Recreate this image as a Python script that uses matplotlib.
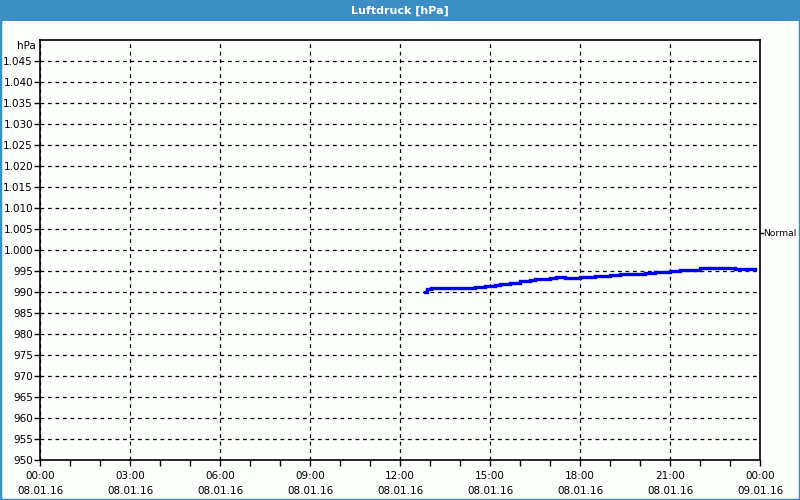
import matplotlib
matplotlib.use("Agg")
import matplotlib.pyplot as plt
from matplotlib.patches import Rectangle

# Luftdruck-Messwerte (Stunde seit 08.01.16 00:00, hPa)
stunden = [12.83, 12.91, 13.03, 14.5, 14.83, 15.17, 15.33, 15.67, 16.0, 16.33,
           16.5, 17.0, 17.2, 17.5, 18.0, 18.5, 19.0, 19.33, 20.17, 20.5,
           21.0, 21.33, 22.0, 23.17, 23.83]
druck = [990.0, 990.7, 991.0, 991.3, 991.5, 991.7, 992.0, 992.2, 992.6, 992.9,
         993.0, 993.4, 993.6, 993.4, 993.6, 993.8, 994.0, 994.3, 994.6, 994.8,
         995.0, 995.3, 995.7, 995.4, 995.4]

x_ticks = [0, 3, 6, 9, 12, 15, 18, 21, 24]
x_labels = ["00:00\n08.01.16", "03:00\n08.01.16", "06:00\n08.01.16",
            "09:00\n08.01.16", "12:00\n08.01.16", "15:00\n08.01.16",
            "18:00\n08.01.16", "21:00\n08.01.16", "00:00\n09.01.16"]
y_ticks = list(range(950, 1050, 5))
normal_wert = 1004.0

blau = "#3c8fc6"
hintergrund = "#fbfefb"

fig = plt.figure(figsize=(8, 5), dpi=100, facecolor=hintergrund)

# Titelleiste
fig.patches.append(Rectangle((0, 479 / 500), 1, 21 / 500, transform=fig.transFigure,
                             facecolor=blau, edgecolor="none", zorder=0))
fig.patches.append(Rectangle((0, 0), 1, 1, transform=fig.transFigure,
                             facecolor="none", edgecolor=blau, linewidth=2.5, zorder=5))
fig.text(0.5, 1 - 10.5 / 500, "Luftdruck [hPa]", color="white", fontsize=8,
         fontweight="bold", ha="center", va="center")

ax = fig.add_axes([0.05, 0.08, 0.90, 0.84])
ax.set_facecolor(hintergrund)
ax.set_xlim(0, 24)
ax.set_ylim(950, 1050)

ax.plot(stunden, druck, color="#0000ee", linewidth=2.4, drawstyle="steps-post",
        solid_joinstyle="miter", zorder=3)

ax.set_xticks(x_ticks)
ax.set_xticklabels(x_labels, fontsize=7.5, linespacing=1.55)
ax.set_xticks(range(25), minor=True)
ax.set_yticks(y_ticks)
ax.set_yticklabels([f"{v:,}".replace(",", ".") for v in y_ticks], fontsize=7.5)
ax.tick_params(axis="both", which="both", direction="out", length=4, width=1,
               color="black", pad=1)
ax.tick_params(axis="x", pad=4)

ax.grid(True, which="major", color="black", linestyle=(0, (3, 3)), linewidth=0.9)
for s in ax.spines.values():
    s.set_color("black")
    s.set_linewidth(1.2)

ax.text(-0.15, 1048.6, "hPa", fontsize=7.5, ha="right", va="center")
ax.plot([24, 24.1], [normal_wert, normal_wert], color="black", linewidth=1, clip_on=False)
ax.text(24.1, normal_wert, "Normal", fontsize=6.6, ha="left", va="center")

fig.savefig("out.png", dpi=100, facecolor=hintergrund)
